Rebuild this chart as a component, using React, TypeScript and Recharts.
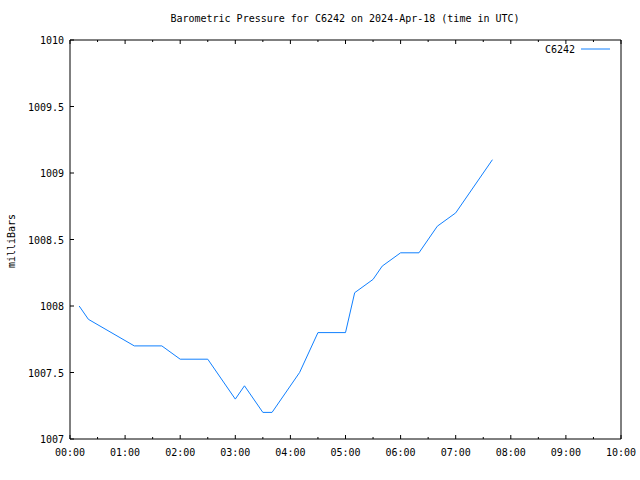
import { LineChart, Line, XAxis, YAxis, Legend } from "recharts";

// minutes after 00:00 UTC
const minutes = [10, 20, 70, 100, 120, 150, 180, 190, 210, 220, 250, 270, 300, 310, 330, 340, 360, 380, 400, 420, 460];
const pressure = [1008.0, 1007.9, 1007.7, 1007.7, 1007.6, 1007.6, 1007.3, 1007.4, 1007.2, 1007.2, 1007.5, 1007.8, 1007.8, 1008.1, 1008.2, 1008.3, 1008.4, 1008.4, 1008.6, 1008.7, 1009.1];

const xTicks = [0, 30, 60, 90, 120, 150, 180, 210, 240, 270, 300, 330, 360, 390, 420, 450, 480, 510, 540, 570, 600];
const yTicks = [1007, 1007.5, 1008, 1008.5, 1009, 1009.5, 1010];

const data = minutes.map((m, i) => ({ t: m, p: pressure[i] }));

const FONT = "'DejaVu Sans Mono', monospace";
const BLUE = "#1080ff";

const hhmm = (m: number) => {
  const h = Math.floor(m / 60);
  const mm = m % 60;
  return `${String(h).padStart(2, "0")}:${String(mm).padStart(2, "0")}`;
};

const BottomTick = (props: any) => {
  const { x, y, payload } = props;
  const major = payload.value % 60 === 0;
  return (
    <g>
      <line x1={x} x2={x} y1={y} y2={y - (major ? 4 : 2)} stroke="#000" />
      {major && (
        <text x={x} y={y + 17} textAnchor="middle" fontFamily={FONT} fontSize={10} fill="#000">
          {hhmm(payload.value)}
        </text>
      )}
    </g>
  );
};

const TopTick = (props: any) => {
  const { x, y, payload } = props;
  const major = payload.value % 60 === 0;
  return <line x1={x} x2={x} y1={y} y2={y + (major ? 4 : 2)} stroke="#000" />;
};

const LeftTick = (props: any) => {
  const { x, y, payload } = props;
  return (
    <g>
      <line x1={x} x2={x + 4} y1={y} y2={y} stroke="#000" />
      <text x={x - 6} y={y + 4} textAnchor="end" fontFamily={FONT} fontSize={10} fill="#000">
        {String(payload.value)}
      </text>
    </g>
  );
};

const RightTick = (props: any) => {
  const { x, y } = props;
  return <line x1={x} x2={x - 4} y1={y} y2={y} stroke="#000" />;
};

const LegendBox = () => (
  <svg width={640} height={16}>
    <text x={575} y={11} textAnchor="end" fontFamily={FONT} fontSize={10} fill="#000">
      C6242
    </text>
    <line x1={581} x2={610} y1={7} y2={7} stroke={BLUE} />
  </svg>
);

export default function App() {
  return (
    <div style={{ position: "absolute", left: 0, top: 0, width: 640, height: 480, background: "#fff" }}>
      <div
        style={{
          position: "absolute",
          left: 0,
          width: 690,
          top: 13,
          textAlign: "center",
          fontFamily: FONT,
          fontSize: 10,
          lineHeight: "12px",
        }}
      >
        Barometric Pressure for C6242 on 2024-Apr-18 (time in UTC)
      </div>
      <div
        style={{
          position: "absolute",
          left: 12,
          top: 241,
          transform: "translate(-50%, -50%) rotate(-90deg)",
          fontFamily: FONT,
          fontSize: 10,
          lineHeight: "12px",
          whiteSpace: "nowrap",
        }}
      >
        milliBars
      </div>
      <LineChart width={640} height={480} data={data} margin={{ top: 0, right: 0, bottom: 0, left: 0 }}>
        <XAxis
          dataKey="t"
          type="number"
          domain={[0, 600]}
          ticks={xTicks}
          interval={0}
          height={41}
          tickSize={0}
          tickMargin={0}
          tick={BottomTick}
          axisLine={{ stroke: "#000" }}
          tickLine={false}
          allowDataOverflow
        />
        <XAxis
          xAxisId="top"
          orientation="top"
          dataKey="t"
          type="number"
          domain={[0, 600]}
          ticks={xTicks}
          interval={0}
          height={40}
          tickSize={0}
          tickMargin={0}
          tick={TopTick}
          axisLine={{ stroke: "#000" }}
          tickLine={false}
        />
        <YAxis
          type="number"
          domain={[1007, 1010]}
          ticks={yTicks}
          interval={0}
          width={70}
          tickSize={0}
          tickMargin={0}
          tick={LeftTick}
          axisLine={{ stroke: "#000" }}
          tickLine={false}
        />
        <YAxis
          yAxisId="right"
          orientation="right"
          type="number"
          domain={[1007, 1010]}
          ticks={yTicks}
          interval={0}
          width={19}
          tickSize={0}
          tickMargin={0}
          tick={RightTick}
          axisLine={{ stroke: "#000" }}
          tickLine={false}
        />
        <Legend
          layout="horizontal"
          verticalAlign="middle"
          content={LegendBox}
          wrapperStyle={{ position: "absolute", top: 42, left: 0, width: 640 }}
        />
        <Line
          type="linear"
          dataKey="p"
          stroke={BLUE}
          strokeWidth={1}
          dot={false}
          isAnimationActive={false}
        />
      </LineChart>
    </div>
  );
}
